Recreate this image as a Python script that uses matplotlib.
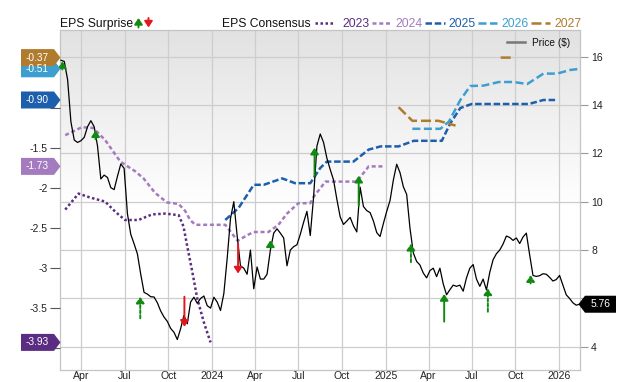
import matplotlib
matplotlib.use('Agg')
import matplotlib.pyplot as plt
import matplotlib.dates as mdates
import numpy as np
import pandas as pd
from matplotlib.patches import Polygon, FancyArrowPatch
from matplotlib.lines import Line2D
from matplotlib.transforms import IdentityTransform

plt.rcParams['font.family'] = ['Liberation Sans', 'DejaVu Sans']

# ---------------- data ----------------
price_start = '2023-02-17'   # weekly closes (Fridays)
prices = [
    15.85, 15.8, 15.05, 13.3, 12.55, 12.45, 12.52, 12.66, 13.1, 13.35,
    13.1, 12.3, 10.94, 11.1, 11.0, 10.58, 10.5, 11.05, 11.56, 11.38,
    9.5, 8.65, 8.26, 7.84, 7.0, 6.25, 6.18, 6.07, 6.06, 5.82,
    5.48, 5.23, 5.05, 4.76, 4.6, 4.3, 4.75, 5.3, 4.95, 5.85,
    6.05, 5.8, 6.0, 6.1, 5.7, 5.6, 6.05, 5.85, 5.5, 6.2,
    7.65, 9.3, 10.0, 8.6, 7.35, 7.25, 7.0, 8.0, 6.4, 7.3,
    6.8, 6.8, 7.0, 8.0, 8.7, 8.88, 8.7, 8.5, 7.35, 8.0,
    8.14, 8.22, 8.65, 9.15, 9.6, 8.6, 10.2, 12.3, 12.8, 12.45,
    11.8, 11.33, 10.9, 10.1, 9.37, 9.06, 9.2, 9.35, 9.0, 8.75,
    10.6, 9.8, 9.63, 9.55, 9.2, 8.72, 8.56, 9.1, 9.6, 10.05,
    10.9, 11.55, 11.2, 10.62, 10.3, 8.9, 7.88, 7.53, 7.38, 7.05,
    6.85, 7.15, 7.25, 6.9, 7.25, 6.6, 6.15, 6.36, 6.55, 6.5,
    6.55, 6.3, 6.85, 7.25, 7.4, 6.8, 6.5, 6.8, 6.35, 7.08,
    7.6, 7.85, 8.0, 8.25, 8.58, 8.52, 8.4, 8.5, 8.27, 8.54,
    8.7, 7.8, 6.95, 6.91, 6.94, 7.02, 7.0, 6.87, 6.72, 6.78,
    6.95, 6.55, 6.15, 6.0, 5.82, 5.72, 5.76,
]

eps23_dates = ['2023-02-26', '2023-03-26', '2023-04-20', '2023-05-21', '2023-06-12',
               '2023-07-02', '2023-07-30', '2023-08-28', '2023-09-25', '2023-10-23',
               '2023-11-02', '2023-11-10', '2023-11-20', '2023-12-01', '2023-12-15',
               '2023-12-29']
eps23_vals = [-2.27, -2.07, -2.12, -2.17, -2.30, -2.40, -2.40, -2.33, -2.32, -2.34,
              -2.48, -2.73, -3.03, -3.38, -3.68, -3.93]

eps24_dates = ['2023-02-26', '2023-04-02', '2023-04-26', '2023-05-21', '2023-06-22',
               '2023-07-23', '2023-08-10', '2023-09-03', '2023-09-28', '2023-10-23',
               '2023-11-06', '2023-11-16', '2023-11-27', '2024-01-29', '2024-02-24',
               '2024-03-15', '2024-03-29', '2024-04-29', '2024-05-20', '2024-06-07',
               '2024-07-01', '2024-07-26', '2024-08-02', '2024-08-27', '2024-11-01',
               '2024-11-26', '2024-12-27']
eps24_vals = [-1.34, -1.24, -1.25, -1.40, -1.67, -1.79, -1.88, -2.06, -2.18, -2.20,
              -2.29, -2.40, -2.46, -2.46, -2.66, -2.59, -2.55, -2.55, -2.46, -2.32,
              -2.19, -2.19, -2.11, -1.92, -1.92, -1.73, -1.73]

eps25_dates = ['2024-01-29', '2024-02-26', '2024-03-29', '2024-04-19', '2024-05-28',
               '2024-06-24', '2024-07-26', '2024-08-16', '2024-08-30', '2024-10-25',
               '2024-11-26', '2024-12-21', '2025-01-28', '2025-03-01', '2025-04-29',
               '2025-05-17', '2025-06-07', '2025-07-01', '2025-10-29', '2025-11-29',
               '2025-12-28']
eps25_vals = [-2.40, -2.25, -1.96, -1.96, -1.88, -1.94, -1.94, -1.75, -1.67, -1.67,
              -1.52, -1.48, -1.48, -1.41, -1.41, -1.19, -1.00, -0.95, -0.95, -0.90,
              -0.90]

eps26_dates = ['2025-02-26', '2025-04-26', '2025-05-14', '2025-06-07', '2025-06-28',
               '2025-07-26', '2025-08-27', '2025-09-27', '2025-10-26', '2025-11-29',
               '2025-12-28', '2026-01-24', '2026-02-14']
eps26_vals = [-1.26, -1.26, -1.17, -0.90, -0.725, -0.72, -0.675, -0.675, -0.70, -0.57,
              -0.57, -0.525, -0.51]

eps27_dates = ['2025-01-28', '2025-02-26', '2025-04-22', '2025-05-28', '2025-07-15',
               '2025-08-31', '2025-09-25']
eps27_vals = [-0.99, -1.16, -1.16, -1.22, np.nan, -0.37, -0.37]

surprise_dates = ['2023-02-20', '2023-05-01', '2023-08-03', '2023-11-04', '2024-02-25',
                  '2024-05-03', '2024-08-04', '2024-11-05', '2025-02-23', '2025-05-04',
                  '2025-08-04', '2025-11-02']
surprise_tip = [15.8, 12.95, 6.07, 4.83, 7.03, 8.40, 12.23, 11.07, 8.26, 6.18, 6.41, 6.96]
surprise_tail = [15.47, 12.58, 5.18, 6.07, 8.26, 8.12, 11.07, 9.84, 7.50, 5.04, 5.45, 6.62]
surprise_dashed = [True, False, True, False, False, False, False, False, True, False, True, True]

years = ['2023', '2024', '2025', '2026', '2027']
badge_vals = [-3.93, -1.73, -0.90, -0.51, -0.37]
price_ticks = [4, 6, 8, 10, 12, 14, 16]
price_labels = ['4', '', '8', '10', '12', '14', '16']
eps_ticks = [-4, -3.5, -3, -2.5, -2, -1.5, -1, -0.5]
eps_labels = ['', '-3.5', '-3', '-2.5', '-2', '-1.5', '', '']

# ---------------- style ----------------
colors = {'2023': '#5b2d82', '2024': '#a47bbf', '2025': '#1e5fad',
          '2026': '#3c9fd0', '2027': '#b07b2c'}
dashes = {'2023': (1, 1), '2024': (1.6, 1.1), '2025': (2.6, 1.1),
          '2026': (3.2, 1.4), '2027': (4.0, 1.6)}
GREEN = '#118a11'
RED = '#e3161c'
HEAD = '-|>,head_length=0.36,head_width=0.24'

W, H = 640, 382
L, R, T, B = 60, 580, 30, 370

def P(x, y):
    return (x / W, 1 - y / H)

fig = plt.figure(figsize=(W / 100, H / 100), dpi=100)
rect = [L / W, 1 - B / H, (R - L) / W, (B - T) / H]
bg = fig.add_axes(rect)

# gradient background
n = 256
t = np.linspace(0, 1, n)
v = np.clip(0.885 + (1 - 0.885) * t / 0.52, 0, 1).reshape(n, 1)
img = np.dstack([v, v, v])
bg.imshow(img, extent=[0, 1, 0, 1], transform=bg.transAxes, aspect='auto',
          zorder=0, origin='upper', interpolation='bilinear')

xmin = mdates.date2num(pd.Timestamp('2023-02-15'))
xmax = mdates.date2num(pd.Timestamp('2026-02-14'))
PRICE_LIM = (3.04, 17.10)
EPS_LIM = (-4.275, -0.025)

axe = bg.twinx()
axp = bg.twinx()
for a in (bg, axe, axp):
    a.set_xlim(xmin, xmax)
bg.set_ylim(*PRICE_LIM)
axp.set_ylim(*PRICE_LIM)
axe.set_ylim(*EPS_LIM)

# x ticks (quarters)
qt = pd.date_range('2023-04-01', '2026-01-01', freq='QS')
qlabels = [str(d.year) if d.month == 1 else d.strftime('%b') for d in qt]
bg.set_xticks(mdates.date2num(qt))
bg.set_xticklabels(qlabels)
bg.tick_params(axis='x', length=0, pad=0.5, labelsize=7.6, labelcolor='#222')

bg.yaxis.tick_right()
bg.set_yticks(price_ticks)
bg.set_yticklabels(price_labels)
bg.tick_params(axis='y', length=6, width=0.8, color='#999', labelcolor='#222',
               labelsize=7.5, pad=2)
bg.grid(True, color='#cdcdcd', lw=0.9)
bg.set_axisbelow(True)
for s in bg.spines.values():
    s.set_color('#c4c4c4')
    s.set_linewidth(0.9)

axe.yaxis.tick_left()
axe.set_yticks(eps_ticks)
axe.set_yticklabels(eps_labels)
axe.tick_params(axis='y', length=7, width=0.8, color='#555', labelcolor='#222',
                labelsize=7.5, pad=2)
axp.set_yticks([])
axp.tick_params(axis='y', right=False, labelright=False, left=False, labelleft=False)
for a in (axe, axp):
    a.patch.set_visible(False)
    for s in a.spines.values():
        s.set_visible(False)

# consensus lines
series = {
    '2023': (eps23_dates, eps23_vals),
    '2024': (eps24_dates, eps24_vals),
    '2025': (eps25_dates, eps25_vals),
    '2026': (eps26_dates, eps26_vals),
    '2027': (eps27_dates, eps27_vals),
}
for yr in years:
    ds, vs = series[yr]
    axe.plot(mdates.date2num(pd.to_datetime(ds)), vs, color=colors[yr], lw=1.8,
             dashes=dashes[yr], dash_capstyle='butt', zorder=3)

# price line
pdates = pd.date_range(price_start, periods=len(prices), freq='W-FRI')
axp.plot(mdates.date2num(pdates), prices, color='black', lw=0.9, zorder=4)

# surprise arrows
for d, tip, tail, dsh in zip(surprise_dates, surprise_tip, surprise_tail, surprise_dashed):
    xd = mdates.date2num(pd.Timestamp(d))
    c = GREEN if tip > tail else RED
    axp.annotate('', xy=(xd, tip), xytext=(xd, tail),
                 arrowprops=dict(arrowstyle=HEAD, mutation_scale=10,
                                 color=c, lw=1.4, shrinkA=0, shrinkB=0,
                                 linestyle=(0, (1.6, 1.0)) if dsh else '-'),
                 annotation_clip=False, zorder=5)

# ---------------- header legend ----------------
fig.text(*P(60, 27), 'EPS Surprise', fontsize=8.7, color='#111', va='baseline')
fig.add_artist(FancyArrowPatch((138.5, H - 27.5), (138.5, H - 18), transform=IdentityTransform(),
                               arrowstyle=HEAD, mutation_scale=10,
                               color=GREEN, lw=1.4, shrinkA=0, shrinkB=0))
fig.add_artist(FancyArrowPatch((148.5, H - 18), (148.5, H - 27.5), transform=IdentityTransform(),
                               arrowstyle=HEAD, mutation_scale=10,
                               color=RED, lw=1.4, shrinkA=0, shrinkB=0))
fig.text(*P(222, 27), 'EPS Consensus', fontsize=8.7, color='#111', va='baseline')
leg_x = {'2023': (315, 335, 342), '2024': (372, 392, 395), '2025': (425, 445, 448),
         '2026': (478, 497, 501), '2027': (531, 550, 554)}
for yr in years:
    x_a, x_b, x_t = leg_x[yr]
    (fa, fy), (fb, _) = P(x_a, 22.5), P(x_b, 22.5)
    fig.add_artist(Line2D([fa, fb], [fy, fy], transform=fig.transFigure,
                          color=colors[yr], lw=1.8, dashes=dashes[yr],
                          dash_capstyle='butt'))
    fig.text(*P(x_t, 27), yr, fontsize=8.7, color=colors[yr], va='baseline')

# price legend
(fa, fy), (fb, _) = P(507, 41.7), P(525, 41.7)
fig.add_artist(Line2D([fa, fb], [fy, fy], transform=fig.transFigure, color='#777', lw=1.8))
fig.text(*P(532.5, 45.5), 'Price ($)', fontsize=7.3, color='#111', va='baseline')

# ---------------- badges ----------------
fig.canvas.draw()
for yr, val in zip(years, badge_vals):
    yc = axe.transData.transform((xmin, val))[1]
    h = 8.5
    poly = Polygon([(21, yc - h), (54, yc - h), (60.5, yc), (54, yc + h), (21, yc + h)],
                   closed=True, transform=IdentityTransform(), facecolor=colors[yr],
                   edgecolor='none', zorder=10)
    fig.add_artist(poly)
    fig.text(37.5 / W, yc / H, '{:.2f}'.format(val), fontsize=7.3, color='white',
             ha='center', va='center', zorder=11)

last_price = prices[-1]
yc = axp.transData.transform((xmax, last_price))[1]
h = 8.5
poly = Polygon([(578.5, yc), (585, yc - h), (616, yc - h), (616, yc + h), (585, yc + h)],
               closed=True, transform=IdentityTransform(), facecolor='black',
               edgecolor='none', zorder=10)
fig.add_artist(poly)
fig.text(600.5 / W, yc / H, '{:.2f}'.format(last_price), fontsize=7.4, color='white',
         ha='center', va='center', zorder=11)

fig.savefig('out.png', dpi=100)
